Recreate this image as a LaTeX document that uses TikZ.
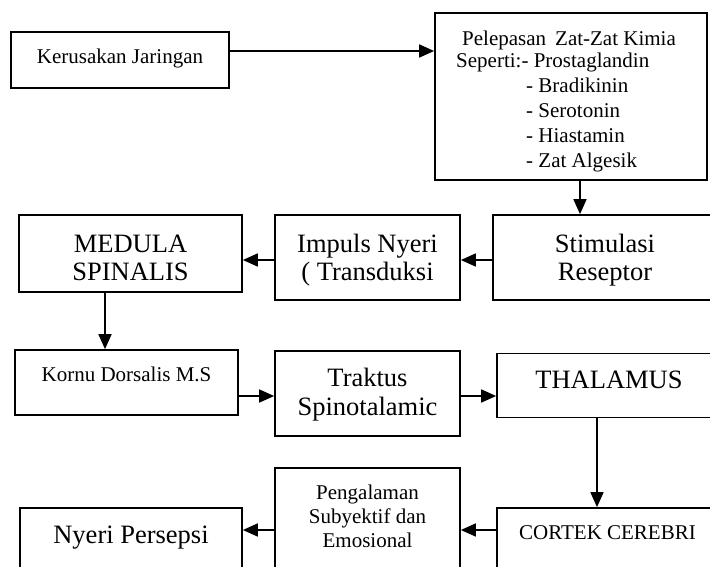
\documentclass[tikz,border=0pt]{standalone}
\usepackage{fontspec}
\setmainfont{Liberation Serif}
\usetikzlibrary{arrows.meta}
\begin{document}
\begin{tikzpicture}[x=1pt,y=-1pt,
  box/.style={draw,line width=1.7pt,inner sep=0pt,rectangle},
  small/.style={font=\fontsize{21}{25}\selectfont,inner sep=0pt,anchor=base},
  big/.style={font=\fontsize{26.5}{28.5}\selectfont,inner sep=0pt,anchor=base},
  arr/.style={-{Triangle[length=15pt,width=13pt]},line width=1.7pt}]
\useasboundingbox (0,0) rectangle (710,566);
% row / column helper coordinates
\coordinate (ha) at (0,51);
\coordinate (hb) at (0,260);
\coordinate (hc) at (0,396);
\coordinate (hd) at (0,530);
\coordinate (va) at (580,0);
\coordinate (vb) at (105,0);
\coordinate (vc) at (597,0);
% boxes
\node[box,minimum width=218pt,minimum height=56pt] (kerus) at (120,60) {};
\node[box,minimum width=272pt,minimum height=167pt] (zat) at (571,96.5) {};
\node[box,minimum width=224pt,minimum height=85pt] (stim) at (605,257.5) {};
\node[box,minimum width=185pt,minimum height=85pt] (impuls) at (367.5,257.5) {};
\node[box,minimum width=223pt,minimum height=77pt] (medula) at (130.5,253.5) {};
\node[box,minimum width=223pt,minimum height=65pt] (kornu) at (126.5,382.5) {};
\node[box,minimum width=185pt,minimum height=85pt] (traktus) at (367.5,393.5) {};
\node[box,minimum width=224pt,minimum height=64pt] (thal) at (609,385.5) {};
\node[box,minimum width=221pt,minimum height=92pt] (cortek) at (607.5,554) {};
\node[box,minimum width=185pt,minimum height=132pt] (peng) at (367.5,534) {};
\node[box,minimum width=222pt,minimum height=92pt] (nyeri) at (131,554) {};
% texts
\node[small] (tkerus) at (120,63) {Kerusakan Jaringan};
\node[small,anchor=base west] (tzat) at (456,45.5) {\begin{tabular}[t]{@{}l@{}}\hspace{6pt}Pelepasan\hspace{9pt}Zat-Zat Kimia\\[-3.5pt]
Seperti:- Prostaglandin\\
\hspace{70pt}- Bradikinin\\
\hspace{70pt}- Serotonin\\
\hspace{70pt}- Hiastamin\\
\hspace{70pt}- Zat Algesik\end{tabular}};
\node[big] (tstim) at (605,252) {\begin{tabular}[t]{@{}c@{}}Stimulasi\\Reseptor\end{tabular}};
\node[big] (timpuls) at (367.5,252) {\begin{tabular}[t]{@{}c@{}}Impuls Nyeri\\( Transduksi\end{tabular}};
\node[big] (tmedula) at (130.5,252) {\begin{tabular}[t]{@{}c@{}}MEDULA\\SPINALIS\end{tabular}};
\node[small] (tkornu) at (126.5,381.5) {Kornu Dorsalis M.S};
\node[big,font=\fontsize{26.5}{29.5}\selectfont] (ttraktus) at (367.5,386) {\begin{tabular}[t]{@{}c@{}}Traktus\\Spinotalamic\end{tabular}};
\node[big] (tthal) at (609,388) {THALAMUS};
\node[small] (tcortek) at (607.5,539) {CORTEK CEREBRI};
\node[small,font=\fontsize{21}{24}\selectfont] (tpeng) at (367.5,499) {\begin{tabular}[t]{@{}c@{}}Pengalaman\\Subyektif dan\\Emosional\end{tabular}};
\node[big] (tnyeri) at (131,543) {Nyeri Persepsi};
% connectors
\draw[arr] (kerus.east |- ha) -- (zat.west |- ha);
\draw[arr] (zat.south -| va) -- (stim.north -| va);
\draw[arr] (stim.west |- hb) -- (impuls.east |- hb);
\draw[arr] (impuls.west |- hb) -- (medula.east |- hb);
\draw[arr] (medula.south -| vb) -- (kornu.north -| vb);
\draw[arr] (kornu.east |- hc) -- (traktus.west |- hc);
\draw[arr] (traktus.east |- hc) -- (thal.west |- hc);
\draw[arr] (thal.south -| vc) -- (cortek.north -| vc);
\draw[arr] (cortek.west |- hd) -- (peng.east |- hd);
\draw[arr] (peng.west |- hd) -- (nyeri.east |- hd);
\end{tikzpicture}
\end{document}
